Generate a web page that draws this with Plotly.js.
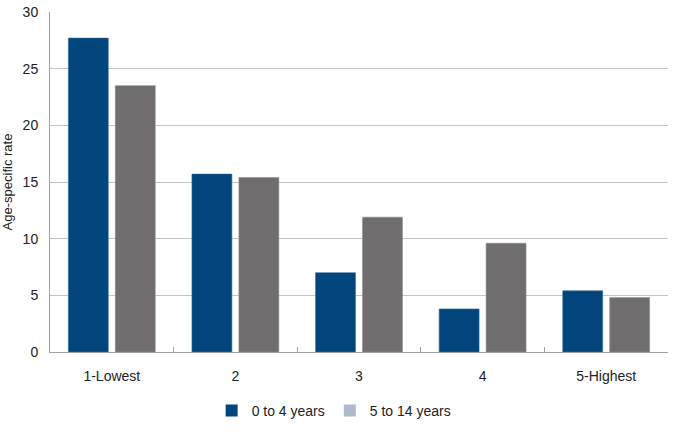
<!DOCTYPE html>
<html>
<head>
<meta charset="utf-8">
<script src="https://cdn.plot.ly/plotly-3.0.1.min.js"></script>
<style>html,body{margin:0;padding:0;background:#fff;}#chart{width:675px;height:432px;}</style>
</head>
<body>
<div id="chart"></div>
<script>
const categories = ["1-Lowest", "2", "3", "4", "5-Highest"];
const seriesNames = ["0 to 4 years", "5 to 14 years"];
const age0to4 = [27.7, 15.7, 7.0, 3.8, 5.4];
const age5to14 = [23.5, 15.4, 11.9, 9.6, 4.8];
const yTicks = [0, 5, 10, 15, 20, 25, 30];

const barColors = ["#00457c", "#6f6d6e"];
const legendColors = ["#00457c", "#b0b9cd"];

const traces = [
  {type: "bar", x: categories, y: age0to4, name: seriesNames[0], showlegend: false,
   marker: {color: barColors[0], line: {color: "#3b6e99", width: 0.6}}, hoverinfo: "x+y"},
  {type: "bar", x: categories, y: age5to14, name: seriesNames[1], showlegend: false,
   marker: {color: barColors[1], line: {color: "#8f8d8e", width: 0.6}}, hoverinfo: "x+y"},
  {type: "bar", x: [null], y: [null], name: seriesNames[0], xaxis: "x2", yaxis: "y2",
   marker: {color: legendColors[0]}},
  {type: "bar", x: [null], y: [null], name: seriesNames[1], xaxis: "x2", yaxis: "y2",
   marker: {color: legendColors[1]}}
];

const layout = {
  width: 675, height: 432,
  margin: {l: 50, r: 7, t: 12, b: 80, autoexpand: false},
  paper_bgcolor: "#fff", plot_bgcolor: "#fff",
  font: {family: "Liberation Sans, Arial, sans-serif", size: 14, color: "#222"},
  barmode: "group", bargap: 0.24, bargroupgap: 0.15,
  xaxis: {
    type: "category", tickson: "boundaries", ticks: "inside", ticklen: 5, tickcolor: "#a0a0a0",
    showline: true, linecolor: "#a0a0a0", linewidth: 1, showgrid: false, zeroline: false,
    tickfont: {size: 14}, ticklabelstandoff: 11, automargin: false, fixedrange: true
  },
  yaxis: {
    range: [0, 30], tickvals: yTicks, ticks: "", showgrid: true, gridcolor: "#c4c4c4", gridwidth: 1,
    showline: true, linecolor: "#a0a0a0", linewidth: 1, zeroline: false,
    tickfont: {size: 14}, ticklabelstandoff: 8, automargin: false,
    title: {text: "Age-specific rate", font: {size: 13}, standoff: 12}, fixedrange: true
  },
  xaxis2: {overlaying: "x", visible: false},
  yaxis2: {overlaying: "y", visible: false},
  legend: {orientation: "h", xref: "container", yref: "container", x: 0.495, xanchor: "center",
    y: 0.0856, yanchor: "top", font: {size: 14}, itemwidth: 30, traceorder: "normal"},
  showlegend: true
};

Plotly.newPlot("chart", traces, layout, {displayModeBar: false, staticPlot: true});
</script>
</body>
</html>
